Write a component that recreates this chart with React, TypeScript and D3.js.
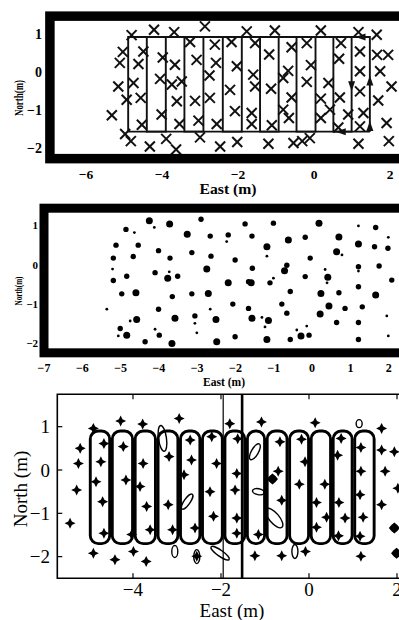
import React from 'react';
import * as d3 from 'd3';

const FONT = '"Liberation Serif", "Times New Roman", serif';

// ---------------- Panel 1 (survey path + crosses) ----------------
const p1TicksX = [-6, -4, -2, 0, 2];
const p1TicksY = [1, 0, -1, -2];
const p1Lanes = [-4.89, -4.4, -3.9, -3.41, -2.91, -2.4, -1.9, -1.42, -0.93, -0.46, 0.04, 0.51, 0.99, 1.47];
const p1LaneTop = 0.92;
const p1LaneBottom = -1.57;
const p1Arrows: [number, number, number][] = [
  [1.47, -0.25, -90], [1.47, -1.45, -90], [0.99, -0.35, 90], [1.25, 0.92, 180], [0.73, -1.57, 180],
];
const p1Crosses: [number, number][] = [
  [-4.8, 0.97], [-4.21, 1.11], [-3.68, 1.05], [-2.87, 1.2], [-1.77, 1.07],
  [-5.03, 0.53], [-4.49, 0.54], [-5.11, 0.24], [-4.62, 0.21], [-3.98, 0.38], [-3.66, 0.19], [-3.26, 0.79],
  [-3.09, 0.32], [-2.61, 0.72], [-2.58, 0.24], [-2.17, 0.79], [-2.03, 0.15],
  [-5.15, -0.38], [-4.75, -0.29], [-4.05, -0.18], [-3.74, -0.33], [-3.48, -0.25], [-2.75, -0.09],
  [-4.93, -0.73], [-4.56, -0.68], [-3.61, -0.77], [-3.13, -0.76], [-2.74, -0.68], [-2.21, -0.47],
  [-5.32, -1.14], [-4.01, -1.12], [-4.53, -1.39], [-3.54, -1.37], [-3.04, -1.28], [-2.56, -1.37], [-2.08, -1.03],
  [-4.97, -1.63], [-4.82, -1.82], [-4.32, -1.96], [-3.89, -1.76], [-3.63, -2.04], [-3.0, -1.72], [-2.47, -1.96], [-2.02, -1.84],
  [-1.03, 1.09], [0.18, 1.09], [1.17, 1.05], [1.65, 0.98],
  [-1.55, 0.76], [-1.18, 0.46], [-0.59, 0.65], [-0.19, 0.76], [0.71, 0.76], [1.21, 0.54], [1.66, 0.45], [1.95, 0.45],
  [0.66, 0.35], [-0.08, 0.18], [-0.68, 0.03], [-0.81, -0.16], [-1.6, -0.07], [1.21, 0.02], [1.74, 0.02],
  [-1.55, -0.38], [-1.13, -0.44], [-0.19, -0.26], [0.38, -0.29], [1.21, -0.51], [2.04, -0.38],
  [-0.59, -0.67], [0.18, -0.7], [0.68, -0.67], [1.69, -0.75],
  [-1.64, -1.08], [-0.81, -0.99], [-0.66, -1.21], [0.18, -1.21], [0.9, -1.12], [1.3, -1.08], [0.42, -0.99],
  [-1.64, -1.37], [-1.11, -1.4], [0.64, -1.46], [1.21, -1.43], [1.91, -1.34],
  [-1.2, -1.89], [-0.54, -1.87], [-0.31, -1.82], [-0.11, -1.74], [1.17, -1.89], [1.97, -1.82],
];

// ---------------- Panel 2 (detected blobs) ----------------
const p2TicksX = [-7, -6, -5, -4, -3, -2, -1, 0, 1, 2];
const p2TicksY = [1, 0, -1, -2];
const p2Dots: [number, number, string][] = [
  [-4.25, 1.1, 'L'], [-3.72, 1.02, 'L'], [-2.9, 1.14, 'N'], [-1.75, 1.02, 'N'], [-4.86, 0.88, 'N'], [-4.64, 0.8, 'S'],
  [-4.12, 0.93, 'S'], [-3.26, 0.76, 'L'], [-2.66, 0.71, 'N'], [-2.19, 0.74, 'N'], [-2.23, 0.57, 'S'], [-5.12, 0.48, 'N'],
  [-4.54, 0.48, 'N'], [-4.01, 0.34, 'N'], [-3.71, 0.15, 'N'], [-3.14, 0.29, 'N'], [-2.64, 0.2, 'N'], [-2.01, 0.1, 'N'],
  [-5.19, 0.15, 'N'], [-4.67, 0.19, 'N'], [-2.75, -0.13, 'L'], [-4.1, -0.22, 'N'], [-3.73, -0.2, 'S'], [-3.77, -0.36, 'L'],
  [-3.51, -0.31, 'N'], [-5.21, -0.13, 'S'], [-4.84, -0.31, 'N'], [-5.19, -0.42, 'N'], [-2.19, -0.48, 'L'], [-1.66, -0.45, 'N'],
  [-4.97, -0.76, 'N'], [-4.6, -0.73, 'L'], [-3.65, -0.83, 'N'], [-3.14, -0.76, 'N'], [-2.71, -0.75, 'L'], [-2.07, -1.02, 'N'],
  [-5.36, -1.15, 'S'], [-4.01, -1.15, 'N'], [-2.66, -1.15, 'S'], [-1.66, -1.13, 'N'], [-4.58, -1.41, 'L'], [-3.58, -1.38, 'L'],
  [-3.06, -1.32, 'N'], [-3.06, -1.51, 'S'], [-2.51, -1.41, 'L'], [-4.75, -1.45, 'S'], [-5.01, -1.64, 'N'], [-4.84, -1.81, 'L'],
  [-4.1, -1.66, 'S'], [-3.99, -1.81, 'N'], [-3.01, -1.75, 'S'], [-2.01, -1.85, 'N'], [-4.36, -1.98, 'N'], [-3.66, -2.02, 'L'],
  [-2.49, -1.98, 'L'], [-5.06, -1.83, 'S'],
  [-1.01, 1.04, 'N'], [0.18, 1.04, 'L'], [1.21, 0.97, 'S'], [1.66, 0.93, 'N'], [-1.57, 0.71, 'N'], [-0.62, 0.61, 'L'],
  [-0.18, 0.68, 'N'], [0.7, 0.69, 'L'], [1.21, 0.51, 'L'], [1.63, 0.44, 'N'], [1.98, 0.4, 'N'], [1.99, 0.68, 'S'],
  [-1.18, 0.44, 'L'], [-1.18, 0.2, 'S'], [-0.05, 0.15, 'N'], [0.64, 0.31, 'L'], [0.78, 0.23, 'S'], [-1.56, -0.11, 'N'],
  [-0.72, -0.17, 'L'], [-0.66, -0.03, 'N'], [-0.18, -0.32, 'N'], [0.34, -0.14, 'S'], [0.41, -0.34, 'L'], [1.21, -0.07, 'N'],
  [1.21, -0.18, 'S'], [1.75, -0.05, 'N'], [2.08, -0.41, 'N'], [-1.59, -0.48, 'L'], [-1.1, -0.48, 'N'], [-1.01, -0.36, 'S'],
  [-0.57, -0.7, 'N'], [0.23, -0.75, 'L'], [0.7, -0.73, 'N'], [1.21, -0.58, 'N'], [1.66, -0.79, 'L'], [-0.79, -1.02, 'N'],
  [0.44, -1.07, 'L'], [0.86, -1.13, 'N'], [1.31, -1.09, 'N'], [1.95, -1.32, 'S'], [-1.57, -1.38, 'L'], [-1.31, -1.36, 'S'],
  [-1.14, -1.44, 'L'], [-1.23, -1.6, 'S'], [-0.66, -1.25, 'N'], [0.21, -1.27, 'L'], [0.64, -1.49, 'N'], [1.21, -1.49, 'N'],
  [-0.14, -1.58, 'S'], [-0.4, -1.68, 'S'], [-1.18, -1.92, 'L'], [-0.57, -1.92, 'N'], [-0.29, -1.83, 'L'], [-0.08, -1.81, 'N'],
  [1.21, -1.92, 'N'], [1.99, -1.83, 'S'], [0.39, -0.48, 'S'],
];
const p2Radius: Record<string, number> = { L: 3.5, N: 2.7, S: 1.4 };

// ---------------- Panel 3 (loops + stars + ellipses) ----------------
const p3TicksX = [-4, -2, 0, 2];
const p3TicksY = [1, 0, -1, -2];
const p3LoopEdges = [-5.0, -4.5, -3.98, -3.46, -2.95, -2.45, -1.94, -1.43, -0.98, -0.47, 0.02, 0.52, 1.01, 1.51];
const p3LoopTop = 0.9;
const p3LoopBottom = -1.7;
const p3VLines: [number, number][] = [[-1.95, 1.2], [-1.52, 2.6]];
const p3Stars: [number, number][] = [
  [-4.28, 1.13], [-3.78, 1.06], [-2.95, 1.19], [-1.8, 1.07],
  [-4.66, 0.61], [-4.73, 0.19], [-4.22, 0.54], [-3.77, 0.15], [-3.18, 0.31], [-2.7, 0.69], [-2.67, 0.23], [-2.21, 0.77], [-2.1, 0.15],
  [-4.84, -0.27], [-4.16, -0.23], [-3.84, -0.38], [-2.84, -0.11], [-2.25, -0.5], [-1.64, -0.08], [-1.68, -0.46], [-1.62, 0.72],
  [-4.69, -0.73], [-3.69, -0.84], [-3.2, -0.8],
  [-1.64, -1.11], [-1.64, -1.46], [-2.17, -1.07], [-4.66, -1.46], [-4.03, -1.49], [-3.61, -1.38], [-3.1, -1.38], [-2.59, -1.34],
  [-4.9, -1.92], [-4.41, -2.07], [-3.99, -1.88], [-3.7, -2.11], [-2.55, -1.99],
  [-5.43, -1.23], [-5.28, -0.46], [-5.24, 0.15], [-5.2, 0.5], [-4.9, 0.96],
  [-1.08, 1.11], [0.14, 1.09], [1.65, 0.96],
  [-0.66, 0.65], [-0.17, 0.71], [0.73, 0.73], [1.18, 0.52], [1.65, 0.46], [1.94, 0.42], [0.65, 0.34], [-0.09, 0.19],
  [1.18, -0.03], [1.73, -0.03], [-0.7, -0.03], [-0.22, -0.33], [0.36, -0.33], [1.16, -0.57], [2.02, -0.42],
  [0.17, -0.75], [0.68, -0.75], [-0.62, -0.7], [1.65, -0.8],
  [1.23, -1.09], [0.82, -1.11], [0.4, -1.09], [0.17, -1.32],
  [-1.15, -1.49], [0.67, -1.52], [1.16, -1.53],
  [-1.23, -1.98], [-0.62, -1.98], [-0.08, -1.88], [1.18, -1.99],
];
const p3Diamonds: [number, number][] = [[-0.83, -0.21], [1.94, -1.34], [1.99, -1.92]];
// cx, cy, rx(px), ry(px), rotation(deg)
const p3Ellipses: [number, number, number, number, number][] = [
  [-3.33, 0.73, 4, 13, -8], [-2.77, -0.73, 3, 9, 35], [-3.05, -1.88, 3, 6, 0], [-2.02, -1.92, 3, 11, -55],
  [-2.55, -2.0, 3, 7, 0], [-1.23, 0.42, 3.5, 9, 30], [-1.15, -0.5, 6, 3, 10], [-0.79, -1.11, 5, 12, -40],
  [-0.32, -1.88, 3, 7, 0], [1.14, 1.07, 3, 4, 0],
];

const minus = (v: number) => (v < 0 ? '\u2212' + Math.abs(v) : String(v));

function starPath(r: number, w: number) {
  return `M0,${-r}L${w},${-w}L${r},0L${w},${w}L0,${r}L${-w},${w}L${-r},0L${-w},${-w}Z`;
}

export default function App() {
  const x1 = d3.scaleLinear().domain([-7, 3]).range([48, 428]);
  const y1 = d3.scaleLinear().domain([1.5, -2.5]).range([15, 167]);
  const x2 = d3.scaleLinear().domain([-7, 3]).range([44, 427]);
  const y2 = d3.scaleLinear().domain([1.5, -2.5]).range([205.05, 362.25]);
  const x3 = d3.scaleLinear().domain([-5.72, 2.5]).range([57.3, 419]);
  const y3 = d3.scaleLinear().domain([1.75, -2.5]).range([394.2, 578.3]);

  const lanesRL = [...p1Lanes].reverse();
  const pts: [number, number][] = [];
  lanesRL.forEach((lx, i) => {
    const up = i % 2 === 0;
    pts.push([lx, up ? p1LaneBottom : p1LaneTop]);
    pts.push([lx, up ? p1LaneTop : p1LaneBottom]);
  });
  const line1 = d3.line<[number, number]>().x(d => x1(d[0])).y(d => y1(d[1]));
  const xMin1 = d3.min(p1Lanes)!, xMax1 = d3.max(p1Lanes)!;

  const crossHalf = 5;

  return (
    <svg width={399} height={620} style={{ position: 'absolute', left: 0, top: 0, background: '#fff' }}
      fontFamily={FONT}>
      <rect x={0} y={0} width={399} height={620} fill="#fff" />

      {/* ===== Panel 1 ===== */}
      <g>
        <path d={line1(pts) || ''} fill="none" stroke="#111" strokeWidth={1.9} />
        <line x1={x1(xMin1)} x2={x1(xMax1)} y1={y1(p1LaneTop)} y2={y1(p1LaneTop)} stroke="#111" strokeWidth={1.9} />
        <line x1={x1(xMin1)} x2={x1(xMax1)} y1={y1(p1LaneBottom)} y2={y1(p1LaneBottom)} stroke="#111" strokeWidth={1.9} />
        {p1Arrows.map(([ax, ay, ang], i) => (
          <path key={'a' + i} d="M6,0L-4,-3.5L-4,3.5Z" fill="#111"
            transform={`translate(${x1(ax)},${y1(ay)}) rotate(${ang})`} />
        ))}
        {p1Crosses.map(([cx, cy], i) => {
          const px = x1(cx), py = y1(cy);
          return (
            <g key={'c' + i} stroke="#111" strokeWidth={2}>
              <line x1={px - crossHalf} y1={py - crossHalf} x2={px + crossHalf} y2={py + crossHalf} />
              <line x1={px - crossHalf} y1={py + crossHalf} x2={px + crossHalf} y2={py - crossHalf} />
            </g>
          );
        })}
        <rect x={x1(-6.95)} y={y1(1.47)} width={x1(3.3) - x1(-6.95)} height={y1(-2.28) - y1(1.47)}
          fill="none" stroke="#000" strokeWidth={9.5} />
        {p1TicksX.map(t => (
          <text key={'t1x' + t} x={x1(t)} y={179} textAnchor="middle" fontSize={13.5} fontWeight="bold">{minus(t)}</text>
        ))}
        {p1TicksY.map(t => (
          <text key={'t1y' + t} x={42} y={y1(t) + 5} textAnchor="end" fontSize={14} fontWeight="bold">{minus(t)}</text>
        ))}
        <text x={228} y={194} textAnchor="middle" fontSize={14} fontWeight="bold" textLength={57}
          lengthAdjust="spacingAndGlyphs">East (m)</text>
        <text transform="translate(23,98) rotate(-90)" textAnchor="middle" fontSize={13} fontWeight="bold"
          textLength={36} lengthAdjust="spacingAndGlyphs">North(m)</text>
      </g>

      {/* ===== Panel 2 ===== */}
      <g>
        {p2Dots.map(([dx, dy, s], i) => (
          <circle key={'d' + i} cx={x2(dx)} cy={y2(dy)} r={p2Radius[s]} fill="#000" />
        ))}
        <rect x={x2(-7)} y={y2(1.42)} width={x2(3.3) - x2(-7)} height={y2(-2.26) - y2(1.42)}
          fill="none" stroke="#000" strokeWidth={9} />
        {p2TicksX.map(t => (
          <text key={'t2x' + t} x={x2(t)} y={372} textAnchor="middle" fontSize={12} fontWeight="bold">{minus(t)}</text>
        ))}
        {p2TicksY.map(t => (
          <text key={'t2y' + t} x={38} y={y2(t) + 4.5} textAnchor="end" fontSize={11} fontWeight="bold">{minus(t)}</text>
        ))}
        <text x={224} y={386} textAnchor="middle" fontSize={12} fontWeight="bold" textLength={42}
          lengthAdjust="spacingAndGlyphs">East (m)</text>
        <text transform="translate(22,291) rotate(-90)" textAnchor="middle" fontSize={11} fontWeight="bold"
          textLength={29} lengthAdjust="spacingAndGlyphs">North(m)</text>
      </g>

      {/* ===== Panel 3 ===== */}
      <g>
        {p3LoopEdges.slice(0, -1).map((e, i) => {
          const l = x3(e) + 1.3, r = x3(p3LoopEdges[i + 1]) - 1.3;
          return (
            <rect key={'l' + i} x={l} y={y3(p3LoopTop)} width={r - l} height={y3(p3LoopBottom) - y3(p3LoopTop)}
              rx={8} ry={8} fill="none" stroke="#000" strokeWidth={2.9} />
          );
        })}
        {p3VLines.map(([vx, sw], i) => (
          <line key={'v' + i} x1={x3(vx)} x2={x3(vx)} y1={y3(1.75)} y2={y3(-2.5)} stroke="#000" strokeWidth={sw} />
        ))}
        {p3Ellipses.map(([ex, ey, rx, ry, rot], i) => (
          <ellipse key={'e' + i} cx={0} cy={0} rx={rx} ry={ry} fill="none" stroke="#000" strokeWidth={1.4}
            transform={`translate(${x3(ex)},${y3(ey)}) rotate(${rot})`} />
        ))}
        {p3Stars.map(([sx, sy], i) => (
          <path key={'s' + i} d={starPath(5.5, 1.8)} fill="#000" transform={`translate(${x3(sx)},${y3(sy)})`} />
        ))}
        {p3Diamonds.map(([sx, sy], i) => (
          <path key={'dm' + i} d={starPath(5.5, 3)} fill="#000" transform={`translate(${x3(sx)},${y3(sy)})`} />
        ))}
        <path d={`M420,${y3(1.75)}H${x3(-5.72)}V${y3(-2.5)}H420`} fill="none" stroke="#000" strokeWidth={1.6} />
        {p3TicksX.map(t => (
          <g key={'tk3x' + t} stroke="#000" strokeWidth={1.2}>
            <line x1={x3(t)} x2={x3(t)} y1={y3(-2.5)} y2={y3(-2.5) - 5} />
            <line x1={x3(t)} x2={x3(t)} y1={y3(1.75)} y2={y3(1.75) + 5} />
          </g>
        ))}
        {p3TicksY.map(t => (
          <line key={'tk3y' + t} x1={x3(-5.72)} x2={x3(-5.72) + 5} y1={y3(t)} y2={y3(t)} stroke="#000" strokeWidth={1.2} />
        ))}
        {p3TicksX.map(t => (
          <text key={'t3x' + t} x={x3(t)} y={596} textAnchor="middle" fontSize={19}>{minus(t)}</text>
        ))}
        {p3TicksY.map(t => (
          <text key={'t3y' + t} x={50} y={y3(t) + 6.5} textAnchor="end" fontSize={19}>{minus(t)}</text>
        ))}
        <text x={232} y={617} textAnchor="middle" fontSize={19}>East (m)</text>
        <text transform="translate(27,489) rotate(-90)" textAnchor="middle" fontSize={19}>North (m)</text>
      </g>
    </svg>
  );
}
